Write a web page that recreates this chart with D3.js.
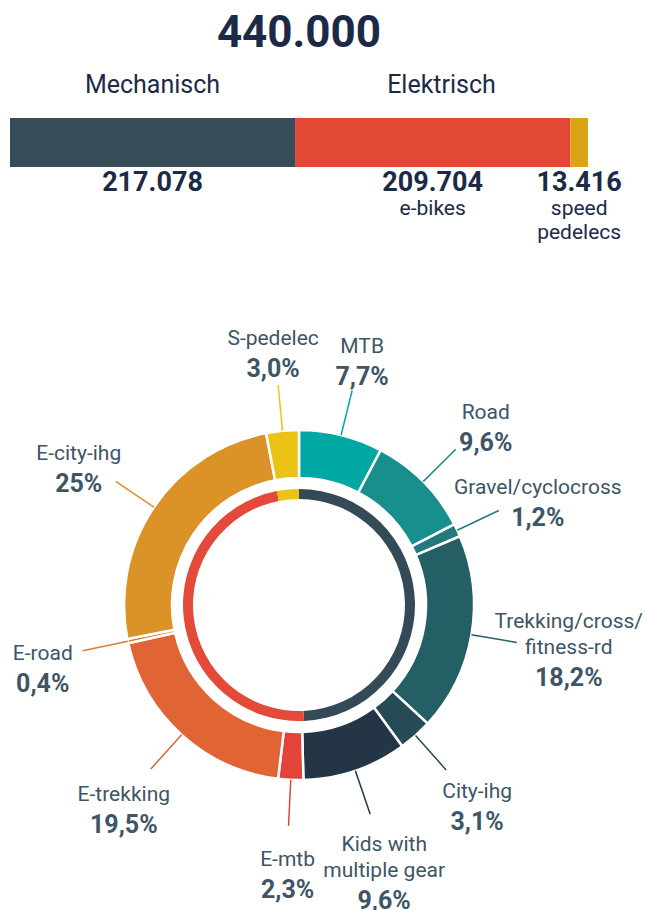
<!DOCTYPE html>
<html>
<head>
<meta charset="utf-8">
<script src="https://cdn.jsdelivr.net/npm/d3@7"></script>
<style>
  body { margin: 0; background: #fff; }
  text { font-family: Roboto, "Noto Sans", sans-serif; }
</style>
</head>
<body>
<svg id="chart" width="647" height="910"></svg>
<script>
// --- data ---
const totalSold = 440000;
const barNames = ["Mechanisch", "e-bikes", "speed pedelecs"];
const barValues = [217078, 209704, 13416];
const barGroups = ["Mechanisch", "Elektrisch", "Elektrisch"];
const barSubLabels = [[], ["e-bikes"], ["speed", "pedelecs"]];

const segNames = ["MTB", "Road", "Gravel/cyclocross", "Trekking/cross/fitness-rd", "City-ihg",
    "Kids with multiple gear", "E-mtb", "E-trekking", "E-road", "E-city-ihg", "S-pedelec"];
const segShares = [7.7, 9.6, 1.2, 18.2, 3.1, 9.6, 2.3, 19.5, 0.4, 25, 3.0];
const segPctLabels = ["7,7%", "9,6%", "1,2%", "18,2%", "3,1%", "9,6%", "2,3%", "19,5%", "0,4%", "25%", "3,0%"];
const segLabelLines = [["MTB"], ["Road"], ["Gravel/cyclocross"], ["Trekking/cross/", "fitness-rd"], ["City-ihg"],
    ["Kids with", "multiple gear"], ["E-mtb"], ["E-trekking"], ["E-road"], ["E-city-ihg"], ["S-pedelec"]];

// --- styles / layout ---
const barColors = ["#364c59", "#e34837", "#d9a514"];
const ringColors = ["#344a57", "#e34a3a", "#ecc217"];
const segColors = ["#00a8a4", "#17908d", "#237a7c", "#255f66", "#264b55", "#243545",
    "#e2443a", "#e06434", "#e07a2d", "#db9226", "#ecc217"];
// label offsets relative to the outer end of each leader line
const labelNudge = [
    { dx: 10, dy: -38 }, { dx: 30, dy: -30 }, { dx: 39, dy: -17 }, { dx: 52, dy: -14 },
    { dx: 31, dy: 28 }, { dx: 14, dy: 37 }, { dx: -1, dy: 40 }, { dx: -27, dy: 32 },
    { dx: -40, dy: 9 }, { dx: -37, dy: -22 }, { dx: -5, dy: -40 }
];
const textDark = "#1b2a47";
const labelColor = "#3e5566";

const svg = d3.select("#chart");
const loc = d3.formatLocale({ decimal: ",", thousands: ".", grouping: [3], currency: ["", ""] });
const fmt = loc.format(",");

// --- top: total and stacked bar ---
const barLeft = 10, barRight = 588, barTop = 118, barH = 49;
const x = d3.scaleLinear().domain([0, d3.sum(barValues)]).range([barLeft, barRight]);

let acc = 0;
const stacked = barValues.map((v, i) => {
    const d = { name: barNames[i], value: v, x0: acc, x1: acc + v, i: i };
    acc += v;
    return d;
});

svg.append("text")
    .attr("x", (barLeft + barRight) / 2)
    .attr("y", 47)
    .attr("text-anchor", "middle")
    .style("font-size", "44px")
    .style("font-weight", "700")
    .attr("fill", textDark)
    .text(fmt(totalSold));

// group headings over the bar
const groups = d3.groups(stacked, d => barGroups[d.i]);
svg.selectAll(".grp")
    .data(groups)
    .enter().append("text")
    .attr("class", "grp")
    .attr("x", g => (x(g[1][0].x0) + x(g[1][g[1].length - 1].x1)) / 2)
    .attr("y", 93)
    .attr("text-anchor", "middle")
    .style("font-size", "25px")
    .attr("fill", textDark)
    .text(g => g[0]);

svg.selectAll(".bar")
    .data(stacked)
    .enter().append("rect")
    .attr("class", "bar")
    .attr("x", d => x(d.x0))
    .attr("y", barTop)
    .attr("width", d => x(d.x1) - x(d.x0))
    .attr("height", barH)
    .attr("fill", d => barColors[d.i]);

svg.selectAll(".barval")
    .data(stacked)
    .enter().append("text")
    .attr("class", "barval")
    .attr("x", d => (x(d.x0) + x(d.x1)) / 2)
    .attr("y", 191)
    .attr("text-anchor", "middle")
    .style("font-size", "27px")
    .style("font-weight", "700")
    .attr("fill", textDark)
    .text(d => fmt(d.value));

stacked.forEach(d => {
    barSubLabels[d.i].forEach((line, k) => {
        svg.append("text")
            .attr("x", (x(d.x0) + x(d.x1)) / 2)
            .attr("y", 215 + k * 24)
            .attr("text-anchor", "middle")
            .style("font-size", "21px")
            .attr("fill", textDark)
            .text(line);
    });
});

// --- donut ---
const cx = 299, cy = 605;
const rOuter = 175, rInner = 127, ringOuter = 116, ringInner = 106, rLeader = 221;
const donut = svg.append("g").attr("transform", "translate(" + cx + "," + cy + ")");

const pie = d3.pie().sort(null).value(d => d);
const segArcs = pie(segShares);
const arcOuter = d3.arc().innerRadius(rInner).outerRadius(rOuter);

donut.selectAll(".seg")
    .data(segArcs)
    .enter().append("path")
    .attr("class", "seg")
    .attr("d", arcOuter)
    .attr("fill", (d, i) => segColors[i])
    .attr("stroke", "#fff")
    .attr("stroke-width", 2.5);

const ringArcs = pie(barValues);
const arcRing = d3.arc().innerRadius(ringInner).outerRadius(ringOuter);
donut.selectAll(".ring")
    .data(ringArcs)
    .enter().append("path")
    .attr("class", "ring")
    .attr("d", arcRing)
    .attr("fill", (d, i) => ringColors[i]);

// leader lines and labels
function polar(r, a) { return [r * Math.sin(a), -r * Math.cos(a)]; }

segArcs.forEach((d, i) => {
    const mid = (d.startAngle + d.endAngle) / 2;
    const p0 = polar(rOuter, mid);
    const p1 = polar(rLeader, mid);
    donut.append("line")
        .attr("x1", p0[0]).attr("y1", p0[1])
        .attr("x2", p1[0]).attr("y2", p1[1])
        .attr("stroke", segColors[i])
        .attr("stroke-width", 1.5);

    const tx = p1[0] + labelNudge[i].dx;
    let ty = p1[1] + labelNudge[i].dy;
    segLabelLines[i].forEach((line, k) => {
        donut.append("text")
            .attr("x", tx)
            .attr("y", ty + k * 26)
            .attr("text-anchor", "middle")
            .style("font-size", "21px")
            .attr("fill", labelColor)
            .text(line);
    });
    donut.append("text")
        .attr("x", tx)
        .attr("y", ty + (segLabelLines[i].length - 1) * 26 + 32)
        .attr("text-anchor", "middle")
        .style("font-size", "25px")
        .style("font-weight", "700")
        .attr("fill", labelColor)
        .text(segPctLabels[i]);
});
</script>
</body>
</html>
